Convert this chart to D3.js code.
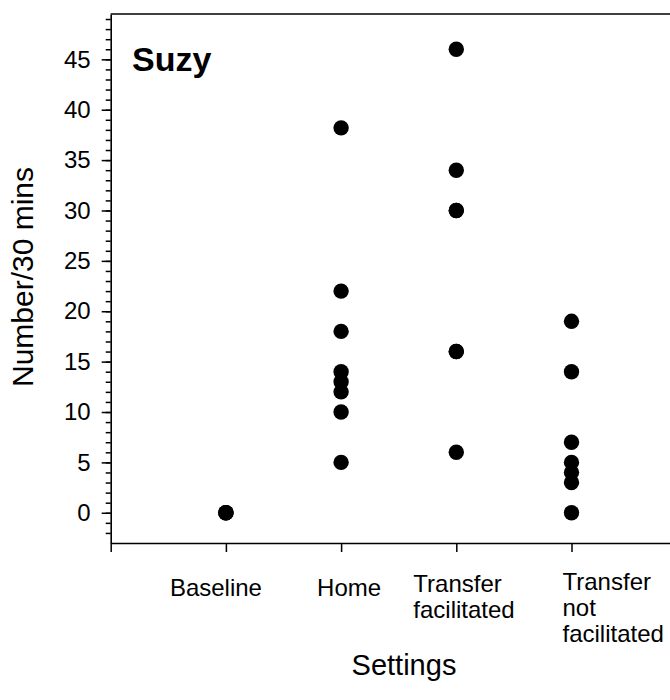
<!DOCTYPE html>
<html>
<head>
<meta charset="utf-8">
<script src="https://cdn.jsdelivr.net/npm/d3@7"></script>
<style>
  html, body { margin: 0; padding: 0; background: #fff; }
  svg text { font-family: "Liberation Sans", Arial, sans-serif; fill: #000; }
</style>
</head>
<body>
<svg id="chart" width="670" height="700"></svg>
<script>
// ---- data ----
const categories = ["Baseline", "Home", "Transfer\nfacilitated", "Transfer\nnot\nfacilitated"];
const baselineValues = [0, 0, 0];
const homeValues = [38.2, 22, 18, 14, 13, 12, 10, 5];
const transferFacilitatedValues = [46, 34, 30, 30, 16, 16, 6];
const transferNotFacilitatedValues = [19, 14, 7, 5, 4, 3, 0];
const yTickLabels = [0, 5, 10, 15, 20, 25, 30, 35, 40, 45];
const panelTitle = "Suzy";
const xTitle = "Settings";
const yTitle = "Number/30 mins";

const seriesValues = [baselineValues, homeValues, transferFacilitatedValues, transferNotFacilitatedValues];
const points = [];
seriesValues.forEach((vals, i) => vals.forEach(v => points.push({ pos: i + 1, value: v })));

// ---- layout ----
const svg = d3.select("#chart");
const plotLeft = 110.7, plotTop = 14, plotBottom = 543, plotRight = 686.7;

const x = d3.scaleLinear().domain([0, 5]).range([plotLeft, plotRight]);
const y = d3.scaleLinear().domain([-3, 49.5]).range([plotBottom, plotTop]);

// top frame line
svg.append("line")
  .attr("x1", plotLeft).attr("x2", plotRight)
  .attr("y1", plotTop).attr("y2", plotTop)
  .attr("stroke", "#000").attr("stroke-width", 1.6);

// y axis minor ticks
const yMinor = svg.append("g")
  .attr("transform", `translate(${plotLeft},0)`)
  .call(d3.axisLeft(y).tickValues(d3.range(-2, 50)).tickSize(5).tickSizeOuter(0).tickFormat(""));
yMinor.select(".domain").attr("stroke-width", 1.6);
yMinor.selectAll(".tick line").attr("stroke-width", 1.5);

// y axis major ticks + labels
const yMajor = svg.append("g")
  .attr("transform", `translate(${plotLeft},0)`)
  .call(d3.axisLeft(y).tickValues(yTickLabels).tickSize(9).tickSizeOuter(0).tickPadding(11).tickFormat(d3.format("d")));
yMajor.select(".domain").remove();
yMajor.selectAll(".tick line").attr("stroke-width", 1.5);
yMajor.selectAll(".tick text")
  .style("font-family", '"Liberation Sans", Arial, sans-serif')
  .style("font-size", "24px").attr("fill", "#000");

// x axis
const xAxis = svg.append("g")
  .attr("transform", `translate(0,${plotBottom})`)
  .call(d3.axisBottom(x).tickValues([0, 1, 2, 3, 4]).tickSize(9).tickSizeOuter(0).tickFormat(""));
xAxis.select(".domain").attr("stroke-width", 1.6);
xAxis.selectAll(".tick line").attr("stroke-width", 1.5);

// category labels (left-aligned multi-line blocks)
const labelDx = [-56, -24, -43, -9];
const labelY = [596, 596, 592, 590];
const lineH = 26;
categories.forEach((c, i) => {
  const t = svg.append("text")
    .attr("x", x(i + 1) + labelDx[i])
    .attr("y", labelY[i])
    .style("font-size", "24px");
  c.split("\n").forEach((line, j) => {
    t.append("tspan")
      .attr("x", x(i + 1) + labelDx[i])
      .attr("y", labelY[i] + j * lineH)
      .text(line);
  });
});

// points
svg.append("g").selectAll("circle")
  .data(points)
  .join("circle")
  .attr("cx", d => x(d.pos))
  .attr("cy", d => y(d.value))
  .attr("r", 7.7)
  .attr("fill", "#000");

// panel title
svg.append("text")
  .attr("x", 132).attr("y", 71)
  .style("font-size", "34px").style("font-weight", "bold")
  .text(panelTitle);

// axis titles
svg.append("text")
  .attr("x", 404).attr("y", 675)
  .attr("text-anchor", "middle")
  .style("font-size", "29px")
  .text(xTitle);

svg.append("text")
  .attr("transform", `translate(33,277) rotate(-90)`)
  .attr("text-anchor", "middle")
  .style("font-size", "30px")
  .text(yTitle);
</script>
</body>
</html>
